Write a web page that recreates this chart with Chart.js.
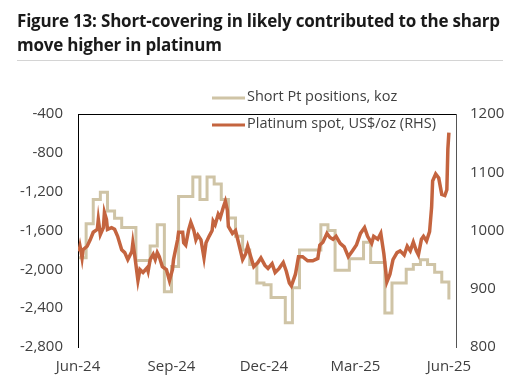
<!DOCTYPE html>
<html>
<head>
<meta charset="utf-8">
<script src="https://cdn.jsdelivr.net/npm/chart.js@4"></script>
<style>
  body { margin: 0; background: #fff; }
  #wrap { position: relative; width: 523px; height: 385px; }
  #title {
    position: absolute; left: 17px; top: 9px;
    font: bold 17px "Open Sans", sans-serif; line-height: 24px;
    letter-spacing: -0.2px; color: #1a1a1a; white-space: nowrap;
  }
  #rule { position: absolute; left: 17px; top: 60px; width: 486px; height: 1px; background: #d4d4d4; }
  canvas { position: absolute; left: 0; top: 0; }
</style>
</head>
<body>
<div id="wrap">
  <canvas id="chart" width="523" height="385"></canvas>
  <div id="title">Figure 13: Short-covering in likely contributed to the sharp<br>move higher in platinum</div>
  <div id="rule"></div>
</div>
<script>
// days counted from 1 Jun 2024
var tickDays = [0, 92, 183, 273, 365];
var tickLabels = ['Jun-24', 'Sep-24', 'Dec-24', 'Mar-25', 'Jun-25'];

// weekly short positions, koz (left axis)
var shortPositions = [-1880, -1530, -1280, -1205, -1400, -1475, -1570, -1570, -1910, -1910,
  -1760, -1540, -2230, -1970, -1250, -1250, -1050, -1280, -1050, -1120,
  -1280, -1470, -1660, -1800, -1950, -2140, -2160, -2290, -2290, -2550,
  -2190, -1800, -1800, -1800, -1540, -1600, -2010, -2010, -1890, -1890,
  -1720, -1930, -1930, -2450, -2140, -2140, -2000, -1950, -1900, -1950,
  -2030, -2130, -2310];
var shortDays = shortPositions.map(function(v, i) { return 1 + 7 * i; });

// platinum spot, US$/oz (right axis)
var spotDays = [1, 2, 3, 4, 5, 9, 12, 15, 19, 20, 22, 25, 26, 28, 29, 33, 36, 39, 43, 46,
  49, 53, 54, 56, 59, 61, 64, 68, 69, 71, 74, 76, 78, 80, 83, 87, 90, 93, 94, 98,
  99, 103, 104, 106, 109, 111, 114, 116, 118, 121, 124, 126, 129, 132, 133, 135, 138, 140, 143, 145,
  147, 148, 152, 155, 158, 162, 165, 167, 170, 173, 177, 180, 184, 187, 191, 194, 198, 202, 205, 208,
  210, 214, 217, 221, 226, 231, 236, 238, 241, 245, 248, 251, 254, 258, 262, 266, 270, 274, 278, 282,
  285, 289, 291, 295, 298, 301, 304, 307, 310, 314, 317, 321, 324, 327, 330, 333, 335, 338, 340, 343,
  346, 348, 349, 352, 355, 358, 361, 363, 364, 365];
var spotPrices = [964, 973, 964, 953, 967, 973, 984, 997, 1002, 1019, 993, 1005, 1031, 1019, 1002, 1005, 1002, 990, 967, 962,
  950, 964, 979, 955, 914, 933, 928, 936, 930, 950, 959, 950, 962, 955, 938, 933, 914, 933, 950, 984,
  997, 997, 979, 975, 1002, 1014, 1000, 984, 992, 984, 953, 979, 990, 1000, 1016, 1010, 1028, 1022, 1040, 1050,
  1035, 1007, 995, 1000, 979, 950, 960, 973, 955, 938, 945, 953, 940, 935, 943, 928, 935, 945, 930, 910,
  905, 925, 955, 955, 948, 948, 952, 975, 980, 995, 988, 985, 990, 978, 972, 955, 965, 975, 995, 1005,
  990, 978, 990, 985, 995, 960, 912, 925, 950, 962, 965, 958, 973, 965, 980, 965, 958, 985, 990, 982,
  998, 1040, 1085, 1097, 1090, 1062, 1060, 1070, 1140, 1168];

var shortColor = '#cfc4a6';
var spotColor = '#c4643f';
var textColor = '#404040';

function pts(xs, ys) {
  return xs.map(function(x, i) { return { x: x, y: ys[i] }; });
}

// legend sits half above, half inside the frame, so draw it by hand
var frameAndLegend = {
  id: 'frameAndLegend',
  afterDraw: function(chart) {
    var ctx = chart.ctx;
    var a = chart.chartArea;
    ctx.save();
    ctx.strokeStyle = '#000';
    ctx.lineWidth = 1;
    ctx.beginPath();
    ctx.moveTo(a.left, a.top + 0.5);
    ctx.lineTo(a.right, a.top + 0.5);
    ctx.stroke();

    var items = chart.data.datasets;
    var rows = [98, 125];
    ctx.font = '14.5px "Open Sans", sans-serif';
    ctx.textBaseline = 'middle';
    ctx.fillStyle = textColor;
    items.forEach(function(ds, i) {
      var y = rows[i];
      ctx.strokeStyle = ds.borderColor;
      ctx.lineWidth = 3;
      ctx.beginPath();
      ctx.moveTo(212, y);
      ctx.lineTo(245, y);
      ctx.stroke();
      ctx.fillText(ds.label, 247, y - 1);
    });
    ctx.restore();
  }
};

var ctx = document.getElementById('chart').getContext('2d');
var chart = new Chart(ctx, {
  type: 'line',
  data: {
    datasets: [{
      label: 'Short Pt positions, koz',
      data: pts(shortDays, shortPositions),
      yAxisID: 'y',
      borderColor: shortColor,
      borderWidth: 3,
      stepped: 'before',
      pointRadius: 0,
      order: 2
    }, {
      label: 'Platinum spot, US$/oz (RHS)',
      data: pts(spotDays, spotPrices),
      yAxisID: 'y1',
      borderColor: spotColor,
      borderWidth: 3.5,
      tension: 0,
      pointRadius: 0,
      order: 1
    }]
  },
  options: {
    responsive: false,
    animation: false,
    layout: { padding: { top: 114, left: 0, right: 0, bottom: 0 } },
    plugins: { legend: { display: false }, tooltip: { enabled: false } },
    scales: {
      x: {
        type: 'linear', min: 0, max: 372,
        grid: { display: false, drawTicks: false },
        border: { display: false },
        afterBuildTicks: function(s) { s.ticks = tickDays.map(function(d) { return { value: d }; }); },
        afterFit: function(s) { s.height = 38; },
        ticks: {
          padding: 11, maxRotation: 0, autoSkip: false,
          color: textColor, font: { family: 'Open Sans', size: 15 },
          callback: function(v) { return tickLabels[tickDays.indexOf(v)]; }
        }
      },
      y: {
        position: 'left', min: -2800, max: -400,
        grid: { display: false, drawTicks: false },
        border: { display: true, color: '#000', width: 1 },
        afterFit: function(s) { s.width = 78; },
        ticks: {
          stepSize: 400, padding: 15, color: textColor,
          font: { family: 'Open Sans', size: 15 },
          callback: function(v) { return v.toLocaleString('en-US'); }
        }
      },
      y1: {
        position: 'right', min: 800, max: 1200,
        grid: { display: false, drawTicks: false },
        border: { display: true, color: '#555', width: 1 },
        afterFit: function(s) { s.width = 67; },
        ticks: {
          stepSize: 100, padding: 14, color: textColor,
          font: { family: 'Open Sans', size: 15 },
          callback: function(v) { return String(v); }
        }
      }
    }
  },
  plugins: [frameAndLegend]
});
</script>
</body>
</html>
